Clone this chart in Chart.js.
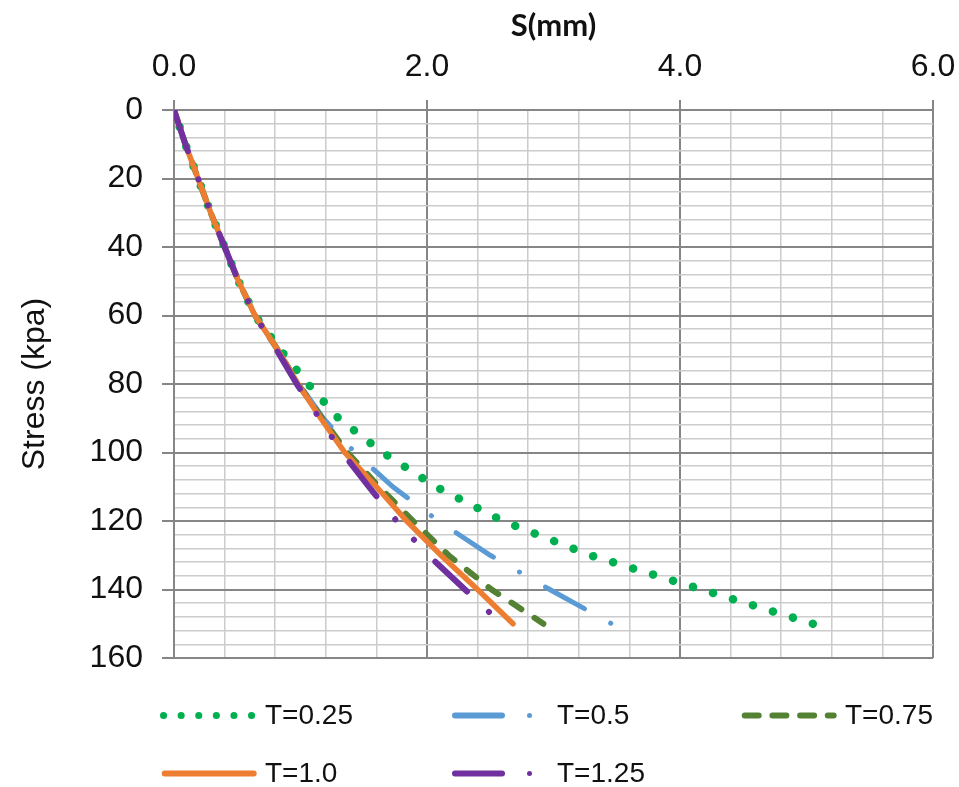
<!DOCTYPE html>
<html>
<head>
<meta charset="utf-8">
<script src="https://cdn.jsdelivr.net/npm/chart.js@4/dist/chart.umd.min.js"></script>
<style>
  html, body { margin: 0; padding: 0; background: #fff; }
  #wrap { width: 959px; height: 787px; }
</style>
</head>
<body>
<div id="wrap"><canvas id="chart" width="959" height="787"></canvas></div>
<script>
// stress levels (kpa) and settlement S (mm) for each T
const stress = [0, 10, 20, 30, 40, 50, 60, 70, 80, 90, 100, 110, 120, 130, 140, 150];
const sT025 = [0, 0.09, 0.19, 0.29, 0.40, 0.51, 0.64, 0.84, 1.06, 1.30, 1.65, 2.07, 2.60, 3.29, 4.17, 5.05];
const sT050 = [0, 0.09, 0.19, 0.29, 0.40, 0.51, 0.64, 0.82, 0.99, 1.18, 1.43, 1.73, 2.09, 2.50, 2.97, 3.46];
const sT075 = [0, 0.09, 0.19, 0.29, 0.40, 0.51, 0.64, 0.82, 0.98, 1.17, 1.37, 1.62, 1.89, 2.17, 2.51, 2.92];
const sT100 = [0, 0.09, 0.19, 0.29, 0.40, 0.51, 0.64, 0.82, 0.98, 1.16, 1.35, 1.60, 1.84, 2.11, 2.40, 2.68];
const sT125 = [0, 0.09, 0.19, 0.29, 0.40, 0.51, 0.64, 0.81, 0.97, 1.15, 1.33, 1.54, 1.76, 2.01, 2.30, 2.59];
const seriesNames = ['T=0.25', 'T=0.5', 'T=0.75', 'T=1.0', 'T=1.25'];

const xMajorStep = 2;
const yMajorStep = 20;

const MAJOR = '#868686';
const MINOR = '#cccccc';
const FONT = "'Liberation Sans', Arial, sans-serif";

function toPoints(xs) {
  return xs.map((x, i) => ({ x: x, y: stress[i] }));
}

function isMajor(v, step) {
  const r = v / step;
  return Math.abs(r - Math.round(r)) < 1e-6;
}

// legend drawn under the plot, excel style
const legendPlugin = {
  id: 'bottomLegend',
  afterDraw(chart) {
    const ctx = chart.ctx;
    const ds = chart.data.datasets;
    ctx.save();
    ctx.lineCap = 'round';

    // T=0.25 dots
    ctx.strokeStyle = ds[0].borderColor;
    ctx.lineWidth = 7;
    ctx.setLineDash([0.1, 17.5]);
    ctx.beginPath(); ctx.moveTo(163.5, 715.5); ctx.lineTo(253, 715.5); ctx.stroke();

    // T=0.5 dash + dot
    ctx.setLineDash([]);
    ctx.strokeStyle = ds[1].borderColor;
    ctx.lineWidth = 6;
    ctx.beginPath(); ctx.moveTo(455, 715.5); ctx.lineTo(502, 715.5); ctx.stroke();
    ctx.fillStyle = ds[1].borderColor;
    ctx.beginPath(); ctx.arc(529.5, 715.5, 2.5, 0, Math.PI * 2); ctx.fill();

    // T=0.75 dashes
    ctx.strokeStyle = ds[2].borderColor;
    ctx.setLineDash([14, 13.7]);
    ctx.beginPath(); ctx.moveTo(744.7, 715.5); ctx.lineTo(833.7, 715.5); ctx.stroke();

    // T=1.0 solid
    ctx.setLineDash([]);
    ctx.strokeStyle = ds[3].borderColor;
    ctx.beginPath(); ctx.moveTo(164.7, 773.5); ctx.lineTo(253.7, 773.5); ctx.stroke();

    // T=1.25 dash + dot
    ctx.strokeStyle = ds[4].borderColor;
    ctx.beginPath(); ctx.moveTo(455, 773.5); ctx.lineTo(502, 773.5); ctx.stroke();
    ctx.fillStyle = ds[4].borderColor;
    ctx.beginPath(); ctx.arc(529.5, 773.5, 2.5, 0, Math.PI * 2); ctx.fill();

    // labels
    ctx.fillStyle = '#111';
    ctx.font = '28px ' + FONT;
    ctx.textBaseline = 'middle';
    ctx.textAlign = 'left';
    ctx.fillText(seriesNames[0], 265, 716);
    ctx.fillText(seriesNames[1], 557, 716);
    ctx.fillText(seriesNames[2], 845, 716);
    ctx.fillText(seriesNames[3], 265, 774);
    ctx.fillText(seriesNames[4], 557, 774);
    ctx.restore();
  }
};

Chart.defaults.font.family = FONT;
Chart.defaults.color = '#111';

const ctx = document.getElementById('chart').getContext('2d');
new Chart(ctx, {
  type: 'scatter',
  data: {
    datasets: [
      {
        label: seriesNames[0], data: toPoints(sT025), showLine: true, order: 5,
        borderColor: '#00b050', borderWidth: 8.5, borderDash: [0.1, 20.8], borderDashOffset: 3.1,
        borderCapStyle: 'round', pointRadius: 0, tension: 0
      },
      {
        label: seriesNames[1], data: toPoints(sT050), showLine: true, order: 4,
        borderColor: '#5b9bd5', borderWidth: 5, borderDash: [44.5, 30, 0.1, 30], borderDashOffset: 2.5,
        borderCapStyle: 'round', pointRadius: 0, tension: 0
      },
      {
        label: seriesNames[2], data: toPoints(sT075), showLine: true, order: 3,
        borderColor: '#548235', borderWidth: 6, borderDash: [12, 15.7],
        borderCapStyle: 'round', pointRadius: 0, tension: 0
      },
      {
        label: seriesNames[3], data: toPoints(sT100), showLine: true, order: 2,
        borderColor: '#ed7d31', borderWidth: 5.5,
        borderCapStyle: 'round', pointRadius: 0, tension: 0
      },
      {
        label: seriesNames[4], data: toPoints(sT125), showLine: true, order: 1,
        borderColor: '#7030a0', borderWidth: 6, borderDash: [43.5, 29.9, 0.1, 27.6, 0.1, 30.6],
        borderCapStyle: 'round', pointRadius: 0, tension: 0
      }
    ]
  },
  options: {
    responsive: false,
    animation: false,
    devicePixelRatio: 1,
    layout: { padding: { left: 0, top: 0, right: 26, bottom: 129 } },
    plugins: {
      legend: { display: false },
      tooltip: { enabled: false }
    },
    scales: {
      x: {
        type: 'linear',
        position: 'top',
        min: 0,
        max: 6,
        ticks: {
          stepSize: 0.4,
          autoSkip: false,
          maxRotation: 0,
          padding: 14,
          color: '#111',
          font: { size: 32 },
          callback: v => isMajor(v, xMajorStep) ? v.toFixed(1) : ''
        },
        grid: {
          color: c => isMajor(c.tick.value, xMajorStep) ? MAJOR : MINOR,
          lineWidth: c => isMajor(c.tick.value, xMajorStep) ? 2 : 1.5,
          tickLength: 10,
          tickColor: c => isMajor(c.tick.value, xMajorStep) ? MAJOR : 'rgba(0,0,0,0)'
        },
        border: { color: MAJOR, width: 2 },
        title: {
          display: true,
          text: 'S(mm)',
          color: '#111',
          font: { family: "Lato, 'Open Sans', sans-serif", size: 31, weight: 'bold' },
          padding: { top: 7, bottom: 0 }
        },
        afterFit: s => {
          s.height = 110;
          s.paddingLeft = 0;
          s.paddingRight = 0;
        }
      },
      y: {
        type: 'linear',
        reverse: true,
        min: 0,
        max: 160,
        ticks: {
          stepSize: 4,
          autoSkip: false,
          padding: 19,
          color: '#111',
          font: { size: 32 },
          callback: v => isMajor(v, yMajorStep) ? String(v) : ''
        },
        grid: {
          color: c => isMajor(c.tick.value, yMajorStep) ? MAJOR : MINOR,
          lineWidth: c => isMajor(c.tick.value, yMajorStep) ? 2 : 1.5,
          tickLength: 12,
          tickColor: c => isMajor(c.tick.value, yMajorStep) ? MAJOR : 'rgba(0,0,0,0)'
        },
        border: { color: MAJOR, width: 2 },
        title: {
          display: true,
          text: 'Stress (kpa)',
          color: '#111',
          font: { size: 32 },
          padding: { top: 16, bottom: 0 }
        },
        afterFit: s => {
          s.width = 174;
          s.paddingTop = 0;
          s.paddingBottom = 0;
        }
      }
    }
  },
  plugins: [legendPlugin]
});
</script>
</body>
</html>
